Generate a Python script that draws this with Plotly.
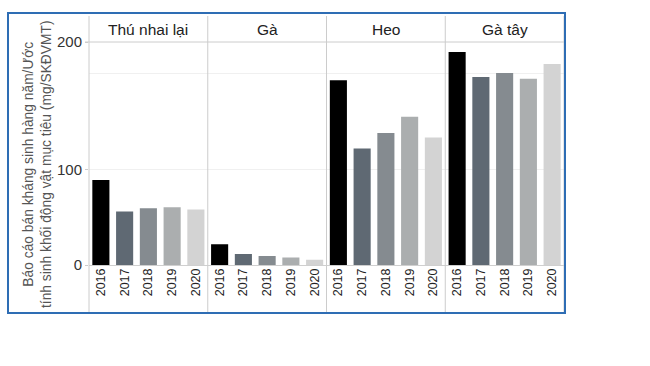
import plotly.graph_objects as go
from plotly.subplots import make_subplots

years = ["2016", "2017", "2018", "2019", "2020"]
species = ["Thú nhai lại", "Gà", "Heo", "Gà tây"]
ruminants = [88.9, 56.0, 59.4, 60.4, 58.0]
chicken = [21.6, 11.5, 9.4, 7.9, 5.6]
swine = [193.4, 122.0, 138.2, 155.2, 133.4]
turkey = [223.0, 196.8, 201.0, 195.0, 210.3]
series = [ruminants, chicken, swine, turkey]
year_colors = ["#000000", "#5f6973", "#858b90", "#abaeaf", "#d3d3d3"]
y_ticks = [0, 100, 200]
y_tick_text = ["0", "100", "200"]
y_title_1 = "Báo cáo bán kháng sinh hàng năm/Ước"
y_title_2 = "tính sinh khối động vật mục tiêu (mg/SKĐVMT)"

FONT = "Liberation Sans, Arial, sans-serif"
W, H = 650, 366
L, R, T, B = 89, 86, 42, 101
pw, ph = W - L - R, H - T - B
YTOP = 233.4


def px_x(x):
    return (x - L) / pw


def px_y(y):
    return (H - B - y) / ph


fig = make_subplots(rows=1, cols=4, shared_yaxes=True, horizontal_spacing=0)
for i, vals in enumerate(series):
    fig.add_trace(
        go.Bar(x=years, y=vals, marker=dict(color=year_colors, line=dict(width=0)),
               showlegend=False, hoverinfo="x+y"),
        row=1, col=i + 1)

fig.update_xaxes(type="category", tickangle=-90, showgrid=False, showline=False,
                 ticks="", zeroline=False,
                 tickfont=dict(family=FONT, size=12.5, color="#222222"))
# the reference prints "200" on the top line of the plot area
fig.update_yaxes(range=[0, YTOP], tickvals=[0, 100, YTOP], ticktext=y_tick_text,
                 showgrid=True, gridcolor="#f0f0f0", gridwidth=1,
                 zeroline=True, zerolinecolor="#cfcfcf", zerolinewidth=1,
                 showline=False, ticks="", fixedrange=True,
                 minor=dict(tickvals=[y_ticks[2]], showgrid=True, gridcolor="#f0f0f0"),
                 tickfont=dict(family=FONT, size=15, color="#333333"))
fig.update_yaxes(ticks="outside", ticklen=3, tickcolor="#cccccc", row=1, col=1)

shapes = []
# panel dividers
for k in range(5):
    shapes.append(dict(type="line", xref="paper", yref="paper",
                       x0=k * 0.25, x1=k * 0.25, y0=px_y(313), y1=px_y(16),
                       line=dict(color="#cccccc", width=1)))
# strip bottom line
shapes.append(dict(type="line", xref="paper", yref="paper", x0=px_x(85), x1=1,
                   y0=1, y1=1, line=dict(color="#cccccc", width=1)))
# blue frame
shapes.append(dict(type="rect", xref="paper", yref="paper",
                   x0=px_x(8), x1=px_x(565), y0=px_y(313), y1=px_y(13),
                   line=dict(color="#2e6db4", width=2)))

annotations = []
for i, name in enumerate(species):
    annotations.append(dict(text=name, xref="paper", yref="paper",
                            x=0.125 + 0.25 * i, y=px_y(29), showarrow=False,
                            xanchor="center", yanchor="middle",
                            font=dict(family=FONT, size=15.5, color="#222222")))
annotations.append(dict(text=y_title_1 + "<br>" + y_title_2, xref="paper",
                        yref="paper", x=px_x(37), y=px_y(164), textangle=-90,
                        showarrow=False, xanchor="center", yanchor="middle",
                        align="center",
                        font=dict(family=FONT, size=13.8, color="#555555")))

fig.update_layout(width=W, height=H, margin=dict(l=L, r=R, t=T, b=B),
                  paper_bgcolor="white", plot_bgcolor="white", bargap=0.28,
                  shapes=shapes, annotations=annotations,
                  font=dict(family=FONT))
fig.write_html("out.html", config={"displayModeBar": False},
               post_script="document.body.style.margin='0';")
